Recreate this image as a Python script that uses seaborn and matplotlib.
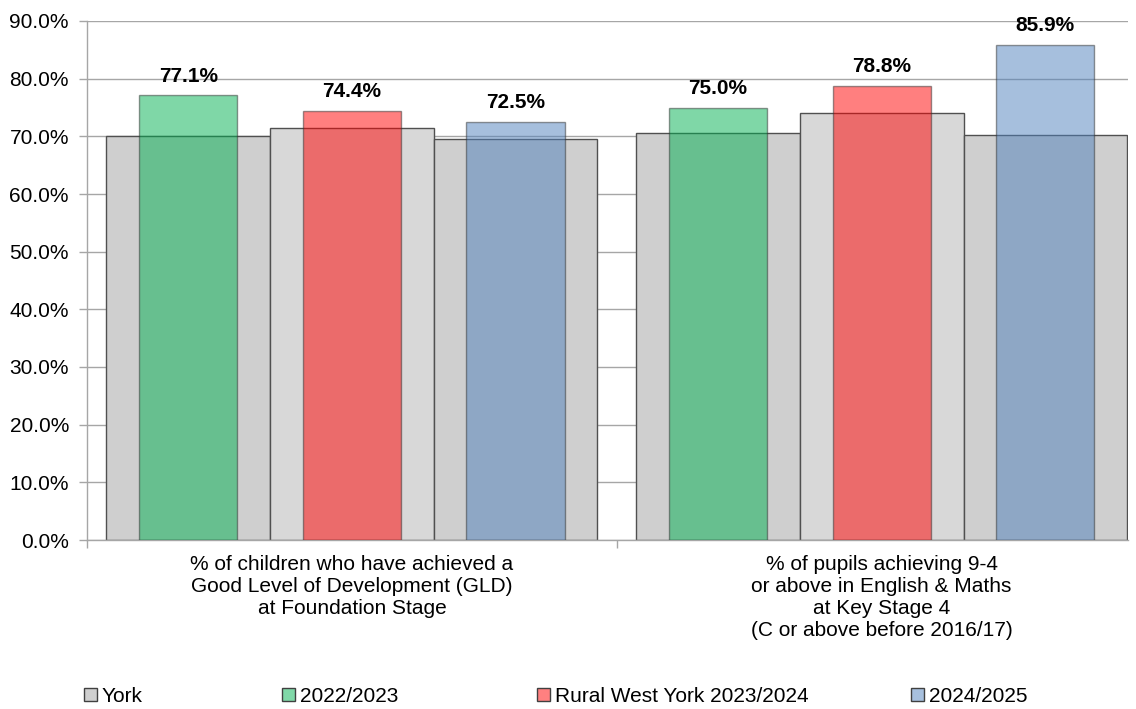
import matplotlib
matplotlib.use("Agg")
import matplotlib.pyplot as plt
import matplotlib.patches as mpatches
import numpy as np
import pandas as pd
import seaborn as sns

measures = [
    "% of children who have achieved a\nGood Level of Development (GLD)\nat Foundation Stage",
    "% of pupils achieving 9-4\nor above in English & Maths\nat Key Stage 4\n(C or above before 2016/17)",
]
years = ["2022/2023", "2023/2024", "2024/2025"]
york_values = [[70.0, 71.4, 69.6], [70.5, 74.0, 70.2]]
ward_values = [[77.1, 74.4, 72.5], [75.0, 78.8, 85.9]]
legend_labels = ["York", "2022/2023", "Rural West York 2023/2024", "2024/2025"]

york_df = pd.DataFrame(
    [(m, y, v) for m, row in zip(measures, york_values) for y, v in zip(years, row)],
    columns=["measure", "year", "value"],
)
ward_df = pd.DataFrame(
    [(m, y, v) for m, row in zip(measures, ward_values) for y, v in zip(years, row)],
    columns=["measure", "year", "value"],
)

sns.set_style("white")
plt.rcParams["font.family"] = ["Liberation Sans", "DejaVu Sans"]
plt.rcParams["text.color"] = "black"
plt.rcParams["xtick.labelcolor"] = "black"
plt.rcParams["ytick.labelcolor"] = "black"

grey_pal = ["#CFCFCF", "#D8D8D8", "#CFCFCF"]
ward_pal = ["#00B050", "#FF0000", "#4F81BD"]
fs = 15

fig = plt.figure(figsize=(11.36, 7.09), dpi=100)
ax = fig.add_axes([87 / 1136, 1 - 540 / 709, (1128 - 87) / 1136, (540 - 21) / 709])

sns.barplot(data=york_df, x="measure", y="value", hue="year", palette=grey_pal,
            width=0.927, edgecolor="#505050", linewidth=1.0, legend=False,
            saturation=1, ax=ax, zorder=2)
sns.barplot(data=ward_df, x="measure", y="value", hue="year", palette=ward_pal,
            width=0.927, gap=0.4, edgecolor="#303030", linewidth=1.0, legend=False,
            saturation=1, alpha=0.5, ax=ax, zorder=3)

for cont in ax.containers[3:]:
    ax.bar_label(cont, fmt="%.1f%%", padding=7, fontsize=fs, fontweight="bold", color="black")

ax.set_ylim(0, 90)
ax.set_xlim(-0.5, 1.465)
ax.set_yticks(np.arange(0, 91, 10))
ax.set_yticklabels([f"{v:.1f}%" for v in np.arange(0, 91, 10)], fontsize=fs)
ax.yaxis.grid(True, color="#A6A6A6", linewidth=1.0, zorder=0)
ax.set_axisbelow(True)
ax.tick_params(axis="y", left=True, length=6, width=1, color="#A6A6A6", pad=7, labelcolor="black")
ax.tick_params(axis="x", which="major", length=0, pad=11, labelsize=fs, labelcolor="black")
ax.set_xticks([-0.5, 0.5], minor=True)
ax.tick_params(axis="x", which="minor", bottom=True, length=6, width=1, color="#A6A6A6")
ax.set_xlabel("")
ax.set_ylabel("")
for side in ["top", "right"]:
    ax.spines[side].set_visible(False)
for side in ["left", "bottom"]:
    ax.spines[side].set_color("#A6A6A6")
    ax.spines[side].set_linewidth(1.0)

legend_faces = ["#CFCFCF", "#80D8A8", "#FF8080", "#A7C0DE"]
legend_x = [84, 282, 537, 911]
for lab, fc, x in zip(legend_labels, legend_faces, legend_x):
    h = mpatches.Patch(facecolor=fc, edgecolor="#404040", linewidth=1.0)
    fig.legend([h], [lab], loc="center left", bbox_to_anchor=(x / 1136, 1 - 696 / 709),
               frameon=False, fontsize=fs, handlelength=0.6, handleheight=0.6,
               handletextpad=0.25, borderpad=0, borderaxespad=0, labelcolor="black")

fig.savefig("out.png", dpi=100)
